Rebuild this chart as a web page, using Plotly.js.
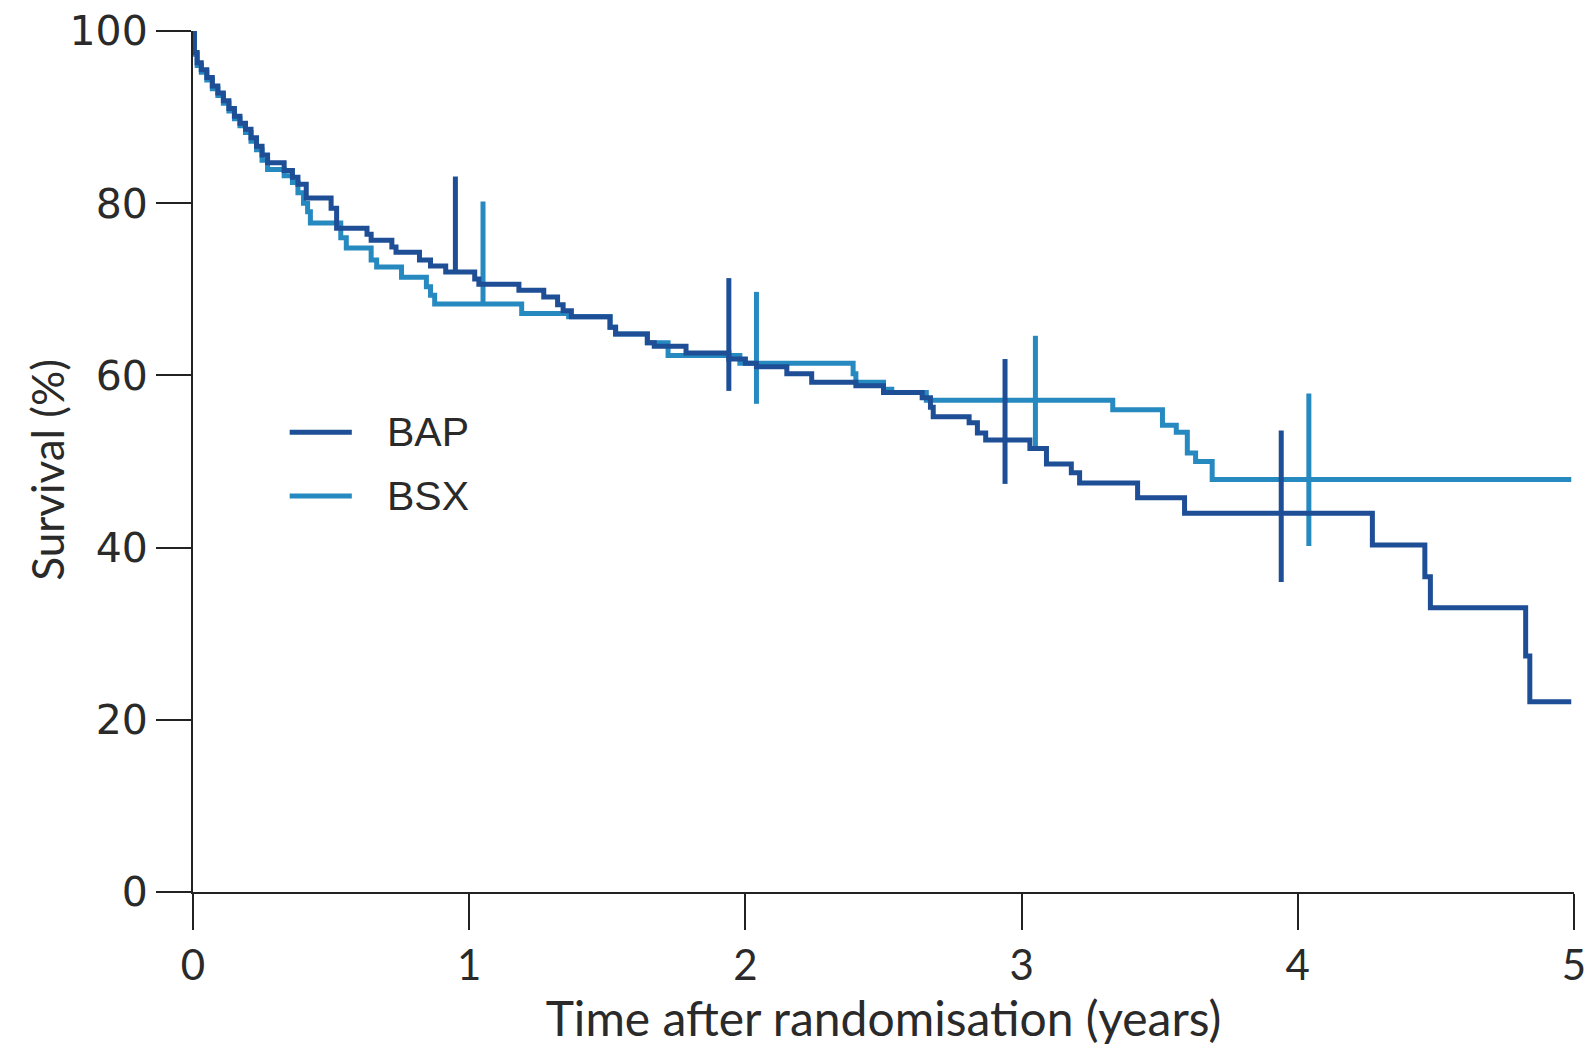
<!DOCTYPE html>
<html>
<head>
<meta charset="utf-8">
<script src="https://cdn.plot.ly/plotly-3.0.1.min.js"></script>
<style>
  html, body { margin: 0; padding: 0; background: #ffffff; }
  #chart { width: 1592px; height: 1048px; }
</style>
</head>
<body>
<div id="chart"></div>
<script>
// Kaplan-Meier survival estimates (step changes), time in years, survival in %
const yearsBAP = [0, 0.005, 0.015, 0.03, 0.05, 0.07, 0.09, 0.11, 0.13, 0.15, 0.17, 0.19, 0.21, 0.23, 0.25, 0.27,
  0.33, 0.36, 0.38, 0.41, 0.50, 0.52, 0.63, 0.645, 0.72, 0.735, 0.82, 0.86, 0.915, 1.02, 1.035, 1.18, 1.27,
  1.32, 1.34, 1.37, 1.51, 1.53, 1.645, 1.67, 1.785, 1.94, 2.0, 2.04, 2.15, 2.24, 2.40, 2.50, 2.64, 2.67, 2.68,
  2.81, 2.84, 2.87, 3.03, 3.09, 3.18, 3.21, 3.42, 3.59, 4.27, 4.46, 4.48, 4.825, 4.84, 4.99];
const survBAP = [100, 97.5, 96.3, 95.5, 94.6, 93.6, 92.8, 91.9, 91.0, 90.1, 89.3, 88.6, 87.6, 86.6, 85.6, 84.7,
  83.8, 83.0, 82.2, 80.6, 79.4, 77.1, 76.4, 75.7, 74.9, 74.3, 73.4, 72.7, 72.0, 71.2, 70.6, 69.9, 69.1,
  68.2, 67.5, 66.8, 65.6, 64.8, 63.8, 63.4, 62.6, 61.9, 61.4, 61.0, 60.2, 59.2, 58.8, 58.0, 57.4, 56.3, 55.2,
  54.5, 53.3, 52.5, 51.5, 49.7, 48.7, 47.5, 45.8, 44.0, 40.3, 36.6, 33.0, 27.4, 22.1, 22.1];

const yearsBSX = [0, 0.005, 0.015, 0.03, 0.05, 0.07, 0.09, 0.11, 0.13, 0.15, 0.17, 0.19, 0.21, 0.23, 0.25, 0.27,
  0.33, 0.36, 0.38, 0.40, 0.415, 0.425, 0.535, 0.555, 0.645, 0.665, 0.755, 0.845, 0.86, 0.875, 1.19, 1.36,
  1.51, 1.53, 1.645, 1.72, 1.98, 2.39, 2.40, 2.50, 2.53, 2.655, 3.33, 3.51, 3.56, 3.60, 3.63, 3.69, 4.99];
const survBSX = [100, 97.3, 96.0, 95.2, 94.3, 93.3, 92.5, 91.6, 90.7, 89.8, 89.0, 88.2, 87.2, 86.2, 85.0, 83.9,
  83.2, 82.4, 81.2, 80.0, 79.0, 77.7, 76.0, 74.8, 73.4, 72.6, 71.4, 70.3, 69.3, 68.3, 67.2, 66.8,
  65.6, 64.8, 63.8, 62.3, 61.4, 60.2, 59.2, 58.4, 58.0, 57.1, 56.0, 54.2, 53.4, 51.0, 50.0, 47.9, 47.9];

// Yearly survival with 95% confidence limits
const ciYearsBAP = [0.95, 1.94, 2.94, 3.94];
const ciSurvBAP  = [72.0, 61.9, 52.5, 44.0];
const ciLowBAP   = [72.0, 58.2, 47.4, 36.0];
const ciHighBAP  = [83.1, 71.3, 61.9, 53.6];

const ciYearsBSX = [1.05, 2.04, 3.05, 4.04];
const ciSurvBSX  = [68.4, 61.4, 57.1, 47.9];
const ciLowBSX   = [68.4, 56.7, 51.6, 40.2];
const ciHighBSX  = [80.2, 69.7, 64.6, 57.9];

const groupNames = ['BAP', 'BSX'];
const xTicks = [0, 1, 2, 3, 4, 5];
const yTicks = [0, 20, 40, 60, 80, 100];

const colBAP = '#1d4e96';
const colBSX = '#2689bf';
const narrow = 'Lato, sans-serif';

function ciTrace(xs, ys, lo, hi, color) {
  return {
    x: xs, y: ys, type: 'scatter', mode: 'markers',
    marker: { size: 1, opacity: 0, color: color },
    error_y: {
      type: 'data', symmetric: false,
      array: hi.map((h, i) => h - ys[i]),
      arrayminus: lo.map((l, i) => ys[i] - l),
      width: 0, thickness: 5, color: color
    },
    showlegend: false, hoverinfo: 'skip'
  };
}

const traces = [
  { x: yearsBSX, y: survBSX, type: 'scatter', mode: 'lines', line: { shape: 'hv', color: colBSX, width: 5 },
    name: groupNames[1], showlegend: false },
  ciTrace(ciYearsBSX, ciSurvBSX, ciLowBSX, ciHighBSX, colBSX),
  { x: yearsBAP, y: survBAP, type: 'scatter', mode: 'lines', line: { shape: 'hv', color: colBAP, width: 5 },
    name: groupNames[0], showlegend: false },
  ciTrace(ciYearsBAP, ciSurvBAP, ciLowBAP, ciHighBAP, colBAP)
];

// Key drawn beside the curves
const keyRows = [
  { name: groupNames[0], color: colBAP, y: 0.534 },
  { name: groupNames[1], color: colBSX, y: 0.460 }
];
const shapes = keyRows.map(r => ({
  type: 'line', xref: 'paper', yref: 'paper', x0: 0.070, x1: 0.115, y0: r.y, y1: r.y,
  line: { color: r.color, width: 5 }
}));
const annotations = keyRows.map(r => ({
  xref: 'paper', yref: 'paper', x: 0.139, y: r.y, xanchor: 'left', yanchor: 'middle',
  text: r.name, showarrow: false, font: { family: 'Liberation Sans, Arial, sans-serif', size: 41, color: '#2a2a2a' }
}));
// Vertical axis title, set slightly below the plot centre
annotations.push({
  xref: 'paper', yref: 'paper', x: -0.106, y: 0.49, xanchor: 'center', yanchor: 'middle',
  textangle: -90, text: 'Survival (%)', showarrow: false,
  font: { family: narrow, size: 44, color: '#2a2a2a' }
});

const layout = {
  width: 1592, height: 1048,
  margin: { l: 193, r: 18, t: 31, b: 156 },
  paper_bgcolor: '#ffffff', plot_bgcolor: '#ffffff',
  showlegend: false,
  xaxis: {
    range: [0, 5], tickvals: xTicks, ticktext: xTicks.map(String),
    showgrid: false, zeroline: false, showline: true, linecolor: '#222', linewidth: 2,
    ticks: 'outside', ticklen: 36, tickwidth: 2, tickcolor: '#222',
    ticklabelstandoff: 0,
    tickfont: { family: narrow, size: 42, color: '#2a2a2a' },
    title: { text: 'Time after randomisation (years)', standoff: 14,
             font: { family: narrow, size: 48, color: '#2a2a2a' } }
  },
  yaxis: {
    range: [0, 100], tickvals: yTicks, ticktext: yTicks.map(String),
    showgrid: false, zeroline: false, showline: true, linecolor: '#222', linewidth: 2,
    ticks: 'outside', ticklen: 35, tickwidth: 2, tickcolor: '#222',
    tickfont: { family: 'DejaVu Sans, sans-serif', size: 41, color: '#2a2a2a' }
  },
  shapes: shapes,
  annotations: annotations
};

Plotly.newPlot('chart', traces, layout, { displayModeBar: false, staticPlot: true });
</script>
</body>
</html>
